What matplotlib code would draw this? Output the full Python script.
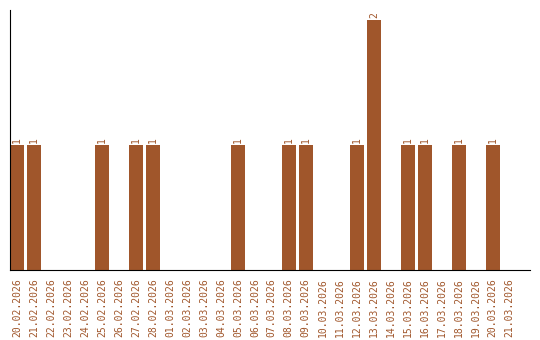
import matplotlib
matplotlib.use('Agg')
import matplotlib.pyplot as plt

dates = ['20.02.2026', '21.02.2026', '22.02.2026', '23.02.2026', '24.02.2026',
         '25.02.2026', '26.02.2026', '27.02.2026', '28.02.2026', '01.03.2026',
         '02.03.2026', '03.03.2026', '04.03.2026', '05.03.2026', '06.03.2026',
         '07.03.2026', '08.03.2026', '09.03.2026', '10.03.2026', '11.03.2026',
         '12.03.2026', '13.03.2026', '14.03.2026', '15.03.2026', '16.03.2026',
         '17.03.2026', '18.03.2026', '19.03.2026', '20.03.2026', '21.03.2026']
counts = [1, 1, 0, 0, 0, 1, 0, 1, 1, 0,
          0, 0, 0, 1, 0, 0, 1, 1, 0, 0,
          1, 2, 0, 1, 1, 0, 1, 0, 1, 0]

color = '#A0562B'

fig = plt.figure(figsize=(5.4, 3.4), dpi=100)
ax = fig.add_axes([10/540, 70/340, 520/540, 260/340])

x = list(range(len(dates)))
ax.bar(x, counts, width=0.82, color=color, align='edge')

for xi, c in zip(x, counts):
    if c > 0:
        ax.text(xi + 0.41, c + 0.02, str(c), rotation=90, ha='center', va='bottom',
                color=color, fontsize=7, family='DejaVu Sans Mono')

ax.set_xlim(0, 30.6)
ax.set_ylim(0, 2.08)
ax.set_xticks([xi + 0.41 for xi in x])
ax.set_xticklabels(dates, rotation=90, fontsize=7, family='DejaVu Sans Mono', color=color)
ax.set_yticks([])
ax.tick_params(axis='x', length=0, pad=6)
ax.spines['top'].set_visible(False)
ax.spines['right'].set_visible(False)

fig.savefig('out.png', dpi=100)
